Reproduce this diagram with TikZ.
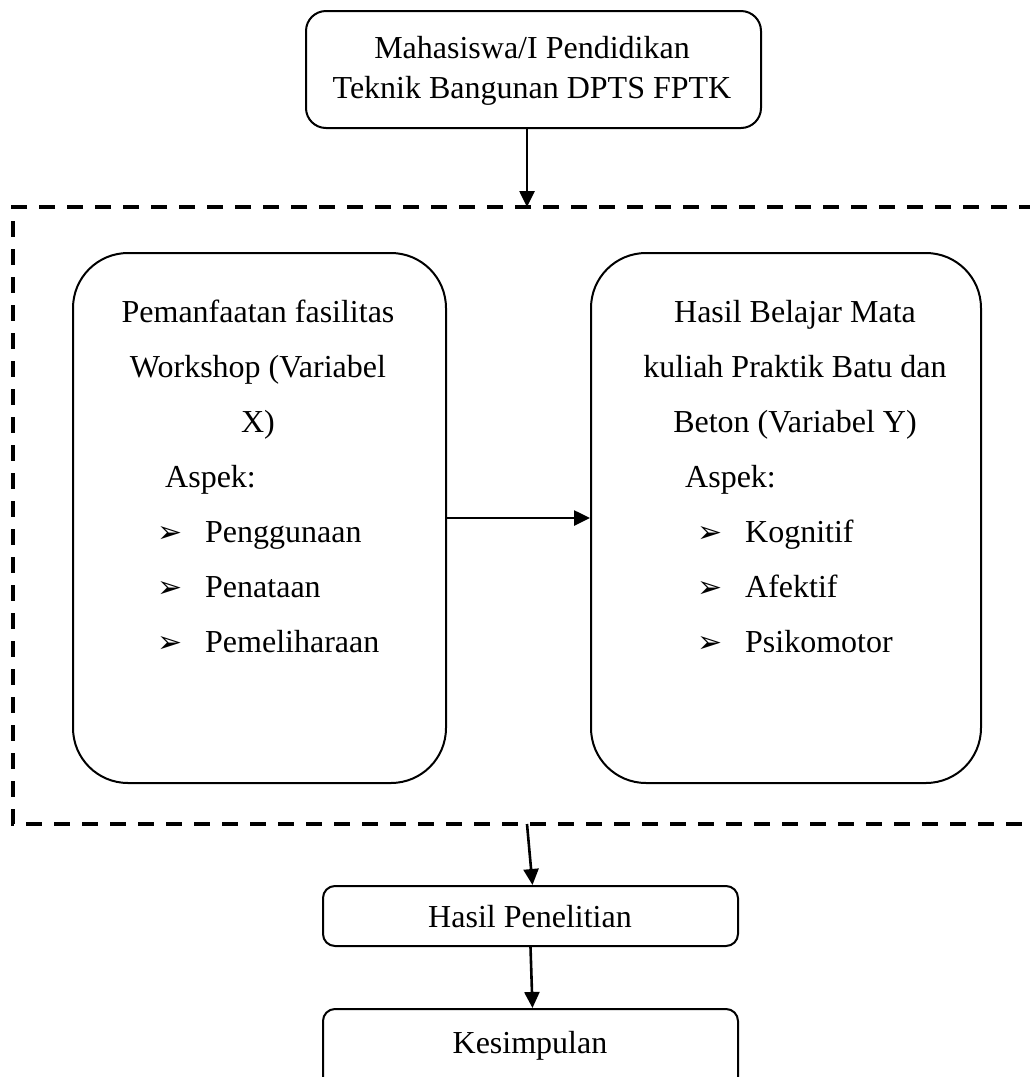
\documentclass[tikz,border=0pt]{standalone}
\usepackage{fontspec}
\setmainfont{Liberation Serif}
\newfontfamily\symfont{DejaVu Sans}
\usetikzlibrary{arrows.meta}
\begin{document}
\begin{tikzpicture}[x=1pt,y=-1pt,
  box/.style={draw, line width=2pt, inner sep=0pt, anchor=north west},
  frame/.style={line width=3.3pt, dash pattern=on 16pt off 12pt},
  arr/.style={line width=2.6pt, -{Triangle[width=15pt,length=16pt]}},
  txt/.style={font=\fontsize{32}{38}\selectfont, inner sep=0pt},
  bul/.style={font=\symfont\fontsize{30}{34}\selectfont, inner sep=0pt, anchor=base west}]
\useasboundingbox (0,0) rectangle (1029,1077);
% boxes
\node[box, rounded corners=20pt, minimum width=455pt, minimum height=117pt] (top) at (305,10) {};
\node[box, rounded corners=55pt, minimum width=373pt, minimum height=530pt] (left) at (72,252) {};
\node[box, rounded corners=55pt, minimum width=390pt, minimum height=530pt] (right) at (590,252) {};
\node[box, rounded corners=12pt, minimum width=415pt, minimum height=60pt] (hasil) at (322,885) {};
\node[box, rounded corners=12pt, minimum width=415pt, minimum height=80pt] (kes) at (322,1008) {};
% dashed frame
\coordinate (ftop) at (527,207);
\coordinate (fbot) at (527,824);
\draw[frame] (1035,207) -- (13,207) -- (13,824) -- (1035,824);
% top texts
\node[txt, anchor=base] (t1) at (532,58) {Mahasiswa/I Pendidikan};
\node[txt, anchor=base] (t2) at (532,98) {Teknik Bangunan DPTS FPTK};
% left texts
\node[txt, anchor=base] (l1) at (258,322) {Pemanfaatan fasilitas};
\node[txt, anchor=base] (l2) at (258,377) {Workshop (Variabel};
\node[txt, anchor=base] (l3) at (258,432) {X)};
\node[txt, anchor=base west] (l4) at (165,487) {Aspek:};
\node[bul] (lb1) at (157,542) {➢};
\node[bul] (lb2) at (157,597) {➢};
\node[bul] (lb3) at (157,652) {➢};
\node[txt, anchor=base west] (l5) at (205,542) {Penggunaan};
\node[txt, anchor=base west] (l6) at (205,597) {Penataan};
\node[txt, anchor=base west] (l7) at (205,652) {Pemeliharaan};
% right texts
\node[txt, anchor=base] (r1) at (795,322) {Hasil Belajar Mata};
\node[txt, anchor=base] (r2) at (795,377) {kuliah Praktik Batu dan};
\node[txt, anchor=base] (r3) at (795,432) {Beton (Variabel Y)};
\node[txt, anchor=base west] (r4) at (685,487) {Aspek:};
\node[bul] (rb1) at (697,542) {➢};
\node[bul] (rb2) at (697,597) {➢};
\node[bul] (rb3) at (697,652) {➢};
\node[txt, anchor=base west] (r5) at (745,542) {Kognitif};
\node[txt, anchor=base west] (r6) at (745,597) {Afektif};
\node[txt, anchor=base west] (r7) at (745,652) {Psikomotor};
% bottom texts
\node[txt, anchor=base] (h1) at (530,927) {Hasil Penelitian};
\node[txt, anchor=base] (k1) at (530,1053) {Kesimpulan};
% arrows
\draw[arr] (ftop |- top.south) -- (ftop);
\draw[arr] (left.east) -- (right.west);
\draw[arr] (fbot) -- ([xshift=2pt]hasil.north);
\draw[arr] (hasil.south) -- ([xshift=2pt]kes.north);
\end{tikzpicture}
\end{document}
